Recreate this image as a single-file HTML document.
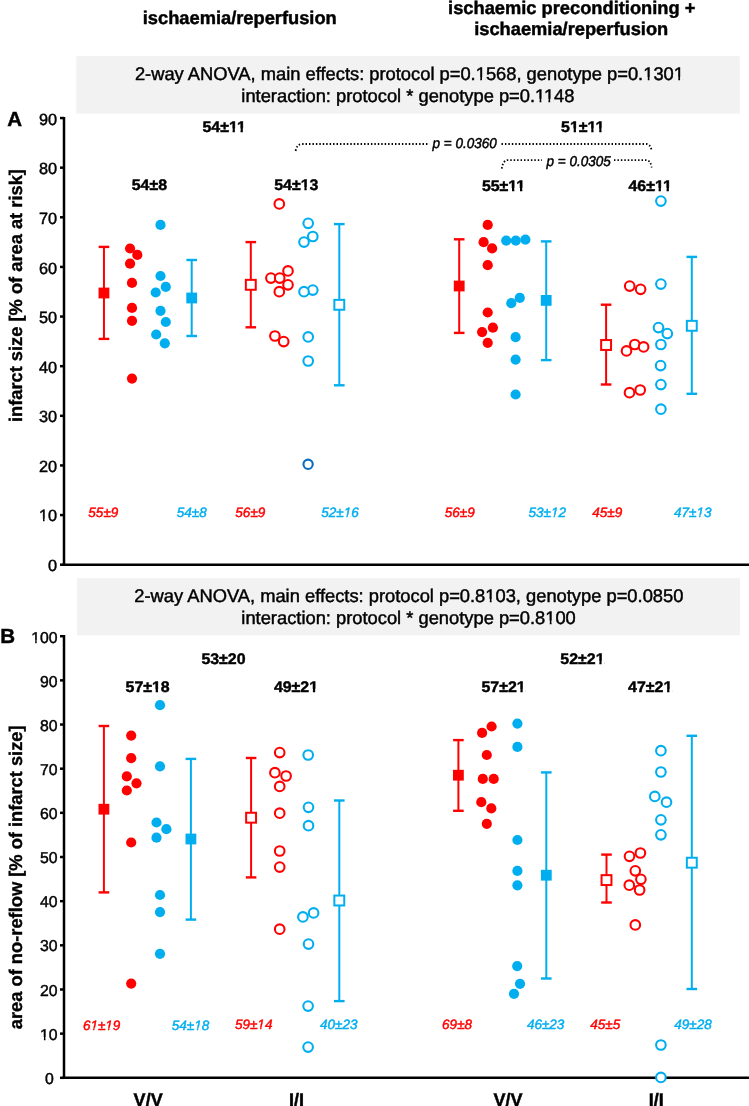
<!DOCTYPE html>
<html><head><meta charset="utf-8"><style>
html,body{margin:0;padding:0;background:#fff;width:749px;height:1106px;overflow:hidden}
svg{display:block;will-change:transform;font-family:"Liberation Sans",sans-serif}
</style></head><body>
<svg width="749" height="1106" viewBox="0 0 749 1106" font-family="Liberation Sans, sans-serif" text-rendering="geometricPrecision">
<rect x="76.3" y="56.1" width="663.5" height="57.5" fill="#f2f2f2"/>
<rect x="77" y="578.1" width="662.9" height="57.2" fill="#f2f2f2"/>
<line x1="64" y1="117" x2="64" y2="565.95" stroke="#000" stroke-width="2.5"/>
<line x1="62.75" y1="564.7" x2="749" y2="564.7" stroke="#000" stroke-width="2.5"/>
<line x1="60" y1="564.7" x2="64" y2="564.7" stroke="#000" stroke-width="2.5"/>
<line x1="60" y1="515.07" x2="64" y2="515.07" stroke="#000" stroke-width="2.5"/>
<line x1="60" y1="465.44" x2="64" y2="465.44" stroke="#000" stroke-width="2.5"/>
<line x1="60" y1="415.81" x2="64" y2="415.81" stroke="#000" stroke-width="2.5"/>
<line x1="60" y1="366.18" x2="64" y2="366.18" stroke="#000" stroke-width="2.5"/>
<line x1="60" y1="316.55" x2="64" y2="316.55" stroke="#000" stroke-width="2.5"/>
<line x1="60" y1="266.92" x2="64" y2="266.92" stroke="#000" stroke-width="2.5"/>
<line x1="60" y1="217.29" x2="64" y2="217.29" stroke="#000" stroke-width="2.5"/>
<line x1="60" y1="167.66" x2="64" y2="167.66" stroke="#000" stroke-width="2.5"/>
<line x1="60" y1="118.03" x2="64" y2="118.03" stroke="#000" stroke-width="2.5"/>
<line x1="64" y1="635.05" x2="64" y2="1079.05" stroke="#000" stroke-width="2.5"/>
<line x1="62.75" y1="1077.8" x2="749" y2="1077.8" stroke="#000" stroke-width="2.5"/>
<line x1="60" y1="1077.8" x2="64" y2="1077.8" stroke="#000" stroke-width="2.5"/>
<line x1="60" y1="1033.64" x2="64" y2="1033.64" stroke="#000" stroke-width="2.5"/>
<line x1="60" y1="989.48" x2="64" y2="989.48" stroke="#000" stroke-width="2.5"/>
<line x1="60" y1="945.32" x2="64" y2="945.32" stroke="#000" stroke-width="2.5"/>
<line x1="60" y1="901.16" x2="64" y2="901.16" stroke="#000" stroke-width="2.5"/>
<line x1="60" y1="857" x2="64" y2="857" stroke="#000" stroke-width="2.5"/>
<line x1="60" y1="812.84" x2="64" y2="812.84" stroke="#000" stroke-width="2.5"/>
<line x1="60" y1="768.68" x2="64" y2="768.68" stroke="#000" stroke-width="2.5"/>
<line x1="60" y1="724.52" x2="64" y2="724.52" stroke="#000" stroke-width="2.5"/>
<line x1="60" y1="680.36" x2="64" y2="680.36" stroke="#000" stroke-width="2.5"/>
<line x1="60" y1="636.2" x2="64" y2="636.2" stroke="#000" stroke-width="2.5"/>
<path d="M295.6,151 Q297,144 302,144 L429.5,144" stroke="#000" stroke-width="1.8" stroke-dasharray="1.45 1.99" fill="none"/>
<path d="M501.5,144 L646,144 Q650.5,144 651.7,151" stroke="#000" stroke-width="1.8" stroke-dasharray="1.45 1.99" fill="none"/>
<path d="M501.8,168.6 Q503,160.1 508,160.1 L542,160.1" stroke="#000" stroke-width="1.8" stroke-dasharray="1.45 1.99" fill="none"/>
<path d="M614,160.1 L646,160.1 Q650.5,160.1 651.7,167.5" stroke="#000" stroke-width="1.8" stroke-dasharray="1.45 1.99" fill="none"/>
<line x1="103.95" y1="246.9" x2="103.95" y2="338.9" stroke="#ff0000" stroke-width="2.0"/>
<line x1="98.65" y1="246.9" x2="109.25" y2="246.9" stroke="#ff0000" stroke-width="2.4"/>
<line x1="98.65" y1="338.9" x2="109.25" y2="338.9" stroke="#ff0000" stroke-width="2.4"/>
<rect x="98.55" y="287.6" width="10.8" height="10.8" fill="#ff0000"/>
<line x1="191.7" y1="260" x2="191.7" y2="336" stroke="#00aeef" stroke-width="2.0"/>
<line x1="186.4" y1="260" x2="197" y2="260" stroke="#00aeef" stroke-width="2.4"/>
<line x1="186.4" y1="336" x2="197" y2="336" stroke="#00aeef" stroke-width="2.4"/>
<rect x="186.3" y="292.6" width="10.8" height="10.8" fill="#00aeef"/>
<circle cx="130.05" cy="248.5" r="5.1" fill="#ff0000"/>
<circle cx="137.3" cy="254.9" r="5.1" fill="#ff0000"/>
<circle cx="130.05" cy="263.7" r="5.1" fill="#ff0000"/>
<circle cx="132" cy="282.9" r="5.1" fill="#ff0000"/>
<circle cx="132" cy="307.9" r="5.1" fill="#ff0000"/>
<circle cx="132" cy="320.8" r="5.1" fill="#ff0000"/>
<circle cx="132" cy="378.6" r="5.1" fill="#ff0000"/>
<circle cx="160.5" cy="224.9" r="5.1" fill="#00aeef"/>
<circle cx="160.5" cy="276" r="5.1" fill="#00aeef"/>
<circle cx="165.8" cy="286.9" r="5.1" fill="#00aeef"/>
<circle cx="155.7" cy="292.5" r="5.1" fill="#00aeef"/>
<circle cx="160.5" cy="310.8" r="5.1" fill="#00aeef"/>
<circle cx="165.8" cy="322" r="5.1" fill="#00aeef"/>
<circle cx="156.2" cy="334.5" r="5.1" fill="#00aeef"/>
<circle cx="164.8" cy="343.3" r="5.1" fill="#00aeef"/>
<line x1="250.8" y1="242.1" x2="250.8" y2="327.3" stroke="#ff0000" stroke-width="2.0"/>
<line x1="245.5" y1="242.1" x2="256.1" y2="242.1" stroke="#ff0000" stroke-width="2.4"/>
<line x1="245.5" y1="327.3" x2="256.1" y2="327.3" stroke="#ff0000" stroke-width="2.4"/>
<rect x="245.85" y="279.85" width="9.9" height="9.9" fill="#fff" stroke="#ff0000" stroke-width="2.0"/>
<line x1="339.3" y1="224.1" x2="339.3" y2="385.3" stroke="#00aeef" stroke-width="2.0"/>
<line x1="334" y1="224.1" x2="344.6" y2="224.1" stroke="#00aeef" stroke-width="2.4"/>
<line x1="334" y1="385.3" x2="344.6" y2="385.3" stroke="#00aeef" stroke-width="2.4"/>
<rect x="334.35" y="299.85" width="9.9" height="9.9" fill="#fff" stroke="#00aeef" stroke-width="2.0"/>
<circle cx="279.3" cy="203.9" r="4.8" fill="#fff" stroke="#ff0000" stroke-width="2.1"/>
<circle cx="288" cy="270.9" r="4.8" fill="#fff" stroke="#ff0000" stroke-width="2.1"/>
<circle cx="270.9" cy="278.1" r="4.8" fill="#fff" stroke="#ff0000" stroke-width="2.1"/>
<circle cx="279.7" cy="278.1" r="4.8" fill="#fff" stroke="#ff0000" stroke-width="2.1"/>
<circle cx="288" cy="284.8" r="4.8" fill="#fff" stroke="#ff0000" stroke-width="2.1"/>
<circle cx="279.3" cy="291.7" r="4.8" fill="#fff" stroke="#ff0000" stroke-width="2.1"/>
<circle cx="274.9" cy="336" r="4.8" fill="#fff" stroke="#ff0000" stroke-width="2.1"/>
<circle cx="283.7" cy="341.6" r="4.8" fill="#fff" stroke="#ff0000" stroke-width="2.1"/>
<circle cx="308.2" cy="223.3" r="4.8" fill="#fff" stroke="#00aeef" stroke-width="2.1"/>
<circle cx="312.8" cy="236.5" r="4.8" fill="#fff" stroke="#00aeef" stroke-width="2.1"/>
<circle cx="304" cy="242.1" r="4.8" fill="#fff" stroke="#00aeef" stroke-width="2.1"/>
<circle cx="312.8" cy="290.1" r="4.8" fill="#fff" stroke="#00aeef" stroke-width="2.1"/>
<circle cx="304" cy="291.7" r="4.8" fill="#fff" stroke="#00aeef" stroke-width="2.1"/>
<circle cx="308.2" cy="336.9" r="4.8" fill="#fff" stroke="#00aeef" stroke-width="2.1"/>
<circle cx="308.2" cy="361" r="4.8" fill="#fff" stroke="#00aeef" stroke-width="2.1"/>
<line x1="459.2" y1="239.3" x2="459.2" y2="332.9" stroke="#ff0000" stroke-width="2.0"/>
<line x1="453.9" y1="239.3" x2="464.5" y2="239.3" stroke="#ff0000" stroke-width="2.4"/>
<line x1="453.9" y1="332.9" x2="464.5" y2="332.9" stroke="#ff0000" stroke-width="2.4"/>
<rect x="453.8" y="280.6" width="10.8" height="10.8" fill="#ff0000"/>
<line x1="546.2" y1="241.4" x2="546.2" y2="360.1" stroke="#00aeef" stroke-width="2.0"/>
<line x1="540.9" y1="241.4" x2="551.5" y2="241.4" stroke="#00aeef" stroke-width="2.4"/>
<line x1="540.9" y1="360.1" x2="551.5" y2="360.1" stroke="#00aeef" stroke-width="2.4"/>
<rect x="540.8" y="295" width="10.8" height="10.8" fill="#00aeef"/>
<circle cx="487.7" cy="224.9" r="5.1" fill="#ff0000"/>
<circle cx="483.6" cy="242.2" r="5.1" fill="#ff0000"/>
<circle cx="492.1" cy="248.4" r="5.1" fill="#ff0000"/>
<circle cx="487.7" cy="265.2" r="5.1" fill="#ff0000"/>
<circle cx="487.7" cy="312.5" r="5.1" fill="#ff0000"/>
<circle cx="492.9" cy="327.7" r="5.1" fill="#ff0000"/>
<circle cx="482.1" cy="332.1" r="5.1" fill="#ff0000"/>
<circle cx="487.7" cy="342.8" r="5.1" fill="#ff0000"/>
<circle cx="506.2" cy="240.6" r="5.1" fill="#00aeef"/>
<circle cx="515.8" cy="240.6" r="5.1" fill="#00aeef"/>
<circle cx="525.4" cy="239.6" r="5.1" fill="#00aeef"/>
<circle cx="519.8" cy="297.9" r="5.1" fill="#00aeef"/>
<circle cx="511.3" cy="303.2" r="5.1" fill="#00aeef"/>
<circle cx="515.6" cy="337.2" r="5.1" fill="#00aeef"/>
<circle cx="515.6" cy="359.6" r="5.1" fill="#00aeef"/>
<circle cx="515.6" cy="394.5" r="5.1" fill="#00aeef"/>
<line x1="606.1" y1="304.7" x2="606.1" y2="384.5" stroke="#ff0000" stroke-width="2.0"/>
<line x1="600.8" y1="304.7" x2="611.4" y2="304.7" stroke="#ff0000" stroke-width="2.4"/>
<line x1="600.8" y1="384.5" x2="611.4" y2="384.5" stroke="#ff0000" stroke-width="2.4"/>
<rect x="601.15" y="340.05" width="9.9" height="9.9" fill="#fff" stroke="#ff0000" stroke-width="2.0"/>
<line x1="691.8" y1="256.9" x2="691.8" y2="393.8" stroke="#00aeef" stroke-width="2.0"/>
<line x1="686.5" y1="256.9" x2="697.1" y2="256.9" stroke="#00aeef" stroke-width="2.4"/>
<line x1="686.5" y1="393.8" x2="697.1" y2="393.8" stroke="#00aeef" stroke-width="2.4"/>
<rect x="686.85" y="320.85" width="9.9" height="9.9" fill="#fff" stroke="#00aeef" stroke-width="2.0"/>
<circle cx="629.7" cy="286.1" r="4.8" fill="#fff" stroke="#ff0000" stroke-width="2.1"/>
<circle cx="640.6" cy="289.3" r="4.8" fill="#fff" stroke="#ff0000" stroke-width="2.1"/>
<circle cx="634.8" cy="344.5" r="4.8" fill="#fff" stroke="#ff0000" stroke-width="2.1"/>
<circle cx="643.6" cy="346.9" r="4.8" fill="#fff" stroke="#ff0000" stroke-width="2.1"/>
<circle cx="626.5" cy="350.9" r="4.8" fill="#fff" stroke="#ff0000" stroke-width="2.1"/>
<circle cx="640.2" cy="390" r="4.8" fill="#fff" stroke="#ff0000" stroke-width="2.1"/>
<circle cx="629.5" cy="392.7" r="4.8" fill="#fff" stroke="#ff0000" stroke-width="2.1"/>
<circle cx="660.9" cy="201.1" r="4.8" fill="#fff" stroke="#00aeef" stroke-width="2.1"/>
<circle cx="660.9" cy="284.1" r="4.8" fill="#fff" stroke="#00aeef" stroke-width="2.1"/>
<circle cx="658.5" cy="327.6" r="4.8" fill="#fff" stroke="#00aeef" stroke-width="2.1"/>
<circle cx="667.3" cy="333.6" r="4.8" fill="#fff" stroke="#00aeef" stroke-width="2.1"/>
<circle cx="660.9" cy="344.5" r="4.8" fill="#fff" stroke="#00aeef" stroke-width="2.1"/>
<circle cx="660.6" cy="365.6" r="4.8" fill="#fff" stroke="#00aeef" stroke-width="2.1"/>
<circle cx="660.9" cy="384.6" r="4.8" fill="#fff" stroke="#00aeef" stroke-width="2.1"/>
<circle cx="660.9" cy="409.2" r="4.8" fill="#fff" stroke="#00aeef" stroke-width="2.1"/>
<line x1="103.9" y1="726" x2="103.9" y2="892.4" stroke="#ff0000" stroke-width="2.0"/>
<line x1="98.6" y1="726" x2="109.2" y2="726" stroke="#ff0000" stroke-width="2.4"/>
<line x1="98.6" y1="892.4" x2="109.2" y2="892.4" stroke="#ff0000" stroke-width="2.4"/>
<rect x="98.5" y="803.8" width="10.8" height="10.8" fill="#ff0000"/>
<line x1="190.9" y1="758.9" x2="190.9" y2="919.6" stroke="#00aeef" stroke-width="2.0"/>
<line x1="185.6" y1="758.9" x2="196.2" y2="758.9" stroke="#00aeef" stroke-width="2.4"/>
<line x1="185.6" y1="919.6" x2="196.2" y2="919.6" stroke="#00aeef" stroke-width="2.4"/>
<rect x="185.5" y="833.6" width="10.8" height="10.8" fill="#00aeef"/>
<circle cx="131.2" cy="735.6" r="5.1" fill="#ff0000"/>
<circle cx="131.2" cy="758.2" r="5.1" fill="#ff0000"/>
<circle cx="126.8" cy="776.4" r="5.1" fill="#ff0000"/>
<circle cx="136.5" cy="783.3" r="5.1" fill="#ff0000"/>
<circle cx="126.8" cy="790.5" r="5.1" fill="#ff0000"/>
<circle cx="131.2" cy="842.5" r="5.1" fill="#ff0000"/>
<circle cx="131.2" cy="983.6" r="5.1" fill="#ff0000"/>
<circle cx="160" cy="705.2" r="5.1" fill="#00aeef"/>
<circle cx="160" cy="766.4" r="5.1" fill="#00aeef"/>
<circle cx="156.5" cy="822.5" r="5.1" fill="#00aeef"/>
<circle cx="166.4" cy="829.2" r="5.1" fill="#00aeef"/>
<circle cx="156.5" cy="837.7" r="5.1" fill="#00aeef"/>
<circle cx="160" cy="895" r="5.1" fill="#00aeef"/>
<circle cx="160" cy="912.1" r="5.1" fill="#00aeef"/>
<circle cx="160" cy="953.8" r="5.1" fill="#00aeef"/>
<line x1="251.1" y1="758" x2="251.1" y2="877.4" stroke="#ff0000" stroke-width="2.0"/>
<line x1="245.8" y1="758" x2="256.4" y2="758" stroke="#ff0000" stroke-width="2.4"/>
<line x1="245.8" y1="877.4" x2="256.4" y2="877.4" stroke="#ff0000" stroke-width="2.4"/>
<rect x="246.15" y="812.75" width="9.9" height="9.9" fill="#fff" stroke="#ff0000" stroke-width="2.0"/>
<line x1="339.3" y1="800.5" x2="339.3" y2="1001.1" stroke="#00aeef" stroke-width="2.0"/>
<line x1="334" y1="800.5" x2="344.6" y2="800.5" stroke="#00aeef" stroke-width="2.4"/>
<line x1="334" y1="1001.1" x2="344.6" y2="1001.1" stroke="#00aeef" stroke-width="2.4"/>
<rect x="334.35" y="895.55" width="9.9" height="9.9" fill="#fff" stroke="#00aeef" stroke-width="2.0"/>
<circle cx="279.7" cy="752.6" r="4.8" fill="#fff" stroke="#ff0000" stroke-width="2.1"/>
<circle cx="274.9" cy="772.7" r="4.8" fill="#fff" stroke="#ff0000" stroke-width="2.1"/>
<circle cx="286.1" cy="776" r="4.8" fill="#fff" stroke="#ff0000" stroke-width="2.1"/>
<circle cx="279.7" cy="786.4" r="4.8" fill="#fff" stroke="#ff0000" stroke-width="2.1"/>
<circle cx="279.7" cy="813.2" r="4.8" fill="#fff" stroke="#ff0000" stroke-width="2.1"/>
<circle cx="279.7" cy="851" r="4.8" fill="#fff" stroke="#ff0000" stroke-width="2.1"/>
<circle cx="279.7" cy="867.1" r="4.8" fill="#fff" stroke="#ff0000" stroke-width="2.1"/>
<circle cx="279.7" cy="929.2" r="4.8" fill="#fff" stroke="#ff0000" stroke-width="2.1"/>
<circle cx="308.2" cy="755" r="4.8" fill="#fff" stroke="#00aeef" stroke-width="2.1"/>
<circle cx="308.5" cy="807.3" r="4.8" fill="#fff" stroke="#00aeef" stroke-width="2.1"/>
<circle cx="308.5" cy="825.7" r="4.8" fill="#fff" stroke="#00aeef" stroke-width="2.1"/>
<circle cx="313.6" cy="912.9" r="4.8" fill="#fff" stroke="#00aeef" stroke-width="2.1"/>
<circle cx="302.9" cy="916.9" r="4.8" fill="#fff" stroke="#00aeef" stroke-width="2.1"/>
<circle cx="308.5" cy="944.1" r="4.8" fill="#fff" stroke="#00aeef" stroke-width="2.1"/>
<circle cx="308.1" cy="1006.1" r="4.8" fill="#fff" stroke="#00aeef" stroke-width="2.1"/>
<circle cx="308.1" cy="1047.1" r="4.8" fill="#fff" stroke="#00aeef" stroke-width="2.1"/>
<line x1="458.4" y1="740.1" x2="458.4" y2="810.8" stroke="#ff0000" stroke-width="2.0"/>
<line x1="453.1" y1="740.1" x2="463.7" y2="740.1" stroke="#ff0000" stroke-width="2.4"/>
<line x1="453.1" y1="810.8" x2="463.7" y2="810.8" stroke="#ff0000" stroke-width="2.4"/>
<rect x="453" y="769.8" width="10.8" height="10.8" fill="#ff0000"/>
<line x1="546.3" y1="772.4" x2="546.3" y2="978.5" stroke="#00aeef" stroke-width="2.0"/>
<line x1="541" y1="772.4" x2="551.6" y2="772.4" stroke="#00aeef" stroke-width="2.4"/>
<line x1="541" y1="978.5" x2="551.6" y2="978.5" stroke="#00aeef" stroke-width="2.4"/>
<rect x="540.9" y="869.8" width="10.8" height="10.8" fill="#00aeef"/>
<circle cx="491.6" cy="726.5" r="5.1" fill="#ff0000"/>
<circle cx="482.1" cy="732.9" r="5.1" fill="#ff0000"/>
<circle cx="486.8" cy="755" r="5.1" fill="#ff0000"/>
<circle cx="482.8" cy="778.9" r="5.1" fill="#ff0000"/>
<circle cx="493.7" cy="778.9" r="5.1" fill="#ff0000"/>
<circle cx="481.3" cy="802.2" r="5.1" fill="#ff0000"/>
<circle cx="491.3" cy="808.4" r="5.1" fill="#ff0000"/>
<circle cx="486.8" cy="823.8" r="5.1" fill="#ff0000"/>
<circle cx="517.4" cy="723.6" r="5.1" fill="#00aeef"/>
<circle cx="517.4" cy="746.9" r="5.1" fill="#00aeef"/>
<circle cx="517.4" cy="840" r="5.1" fill="#00aeef"/>
<circle cx="517.4" cy="870.9" r="5.1" fill="#00aeef"/>
<circle cx="517.4" cy="885.3" r="5.1" fill="#00aeef"/>
<circle cx="517.2" cy="966.1" r="5.1" fill="#00aeef"/>
<circle cx="520" cy="983.8" r="5.1" fill="#00aeef"/>
<circle cx="514" cy="993.8" r="5.1" fill="#00aeef"/>
<line x1="606.5" y1="854.6" x2="606.5" y2="902.5" stroke="#ff0000" stroke-width="2.0"/>
<line x1="601.2" y1="854.6" x2="611.8" y2="854.6" stroke="#ff0000" stroke-width="2.4"/>
<line x1="601.2" y1="902.5" x2="611.8" y2="902.5" stroke="#ff0000" stroke-width="2.4"/>
<rect x="601.55" y="875.15" width="9.9" height="9.9" fill="#fff" stroke="#ff0000" stroke-width="2.0"/>
<line x1="691.8" y1="735.8" x2="691.8" y2="989" stroke="#00aeef" stroke-width="2.0"/>
<line x1="686.5" y1="735.8" x2="697.1" y2="735.8" stroke="#00aeef" stroke-width="2.4"/>
<line x1="686.5" y1="989" x2="697.1" y2="989" stroke="#00aeef" stroke-width="2.4"/>
<rect x="686.85" y="857.75" width="9.9" height="9.9" fill="#fff" stroke="#00aeef" stroke-width="2.0"/>
<circle cx="640.4" cy="853" r="4.8" fill="#fff" stroke="#ff0000" stroke-width="2.1"/>
<circle cx="629.5" cy="856.3" r="4.8" fill="#fff" stroke="#ff0000" stroke-width="2.1"/>
<circle cx="635.3" cy="870.8" r="4.8" fill="#fff" stroke="#ff0000" stroke-width="2.1"/>
<circle cx="640.9" cy="879.3" r="4.8" fill="#fff" stroke="#ff0000" stroke-width="2.1"/>
<circle cx="629.3" cy="885.2" r="4.8" fill="#fff" stroke="#ff0000" stroke-width="2.1"/>
<circle cx="639.6" cy="890" r="4.8" fill="#fff" stroke="#ff0000" stroke-width="2.1"/>
<circle cx="635.3" cy="924.9" r="4.8" fill="#fff" stroke="#ff0000" stroke-width="2.1"/>
<circle cx="660.9" cy="750.7" r="4.8" fill="#fff" stroke="#00aeef" stroke-width="2.1"/>
<circle cx="660.9" cy="772" r="4.8" fill="#fff" stroke="#00aeef" stroke-width="2.1"/>
<circle cx="654.8" cy="796.4" r="4.8" fill="#fff" stroke="#00aeef" stroke-width="2.1"/>
<circle cx="666.5" cy="802.2" r="4.8" fill="#fff" stroke="#00aeef" stroke-width="2.1"/>
<circle cx="660.9" cy="819.8" r="4.8" fill="#fff" stroke="#00aeef" stroke-width="2.1"/>
<circle cx="660.9" cy="834.8" r="4.8" fill="#fff" stroke="#00aeef" stroke-width="2.1"/>
<circle cx="660.9" cy="1045" r="4.8" fill="#fff" stroke="#00aeef" stroke-width="2.1"/>
<circle cx="660.9" cy="1077.4" r="4.8" fill="#fff" stroke="#00aeef" stroke-width="2.1"/>
<circle cx="308.1" cy="464.3" r="4.65" fill="#fff" stroke="#0a6cc0" stroke-width="2.1"/>
<text x="142.73" y="24.4" font-weight="bold" font-style="normal" font-size="18.3" fill="#000" stroke="#000" stroke-width="0.45">ischaemia/reperfusion</text>
<text x="448.08" y="13.5" font-weight="bold" font-style="normal" font-size="18.3" fill="#000" stroke="#000" stroke-width="0.45">ischaemic preconditioning +</text>
<text x="474.17" y="35.2" font-weight="bold" font-style="normal" font-size="18.3" fill="#000" stroke="#000" stroke-width="0.45">ischaemia/reperfusion</text>
<text x="134.9" y="80.25" font-weight="normal" font-style="normal" font-size="18.32" fill="#000" stroke="#000" stroke-width="0.45">2-way ANOVA, main effects: protocol p=0.1568, genotype p=0.1301</text>
<text x="241.35" y="101.75" font-weight="normal" font-style="normal" font-size="18.32" fill="#000" stroke="#000" stroke-width="0.45">interaction: protocol * genotype p=0.1148</text>
<text x="134.32" y="602.05" font-weight="normal" font-style="normal" font-size="18.32" fill="#000" stroke="#000" stroke-width="0.45">2-way ANOVA, main effects: protocol p=0.8103, genotype p=0.0850</text>
<text x="241.35" y="623.55" font-weight="normal" font-style="normal" font-size="18.32" fill="#000" stroke="#000" stroke-width="0.45">interaction: protocol * genotype p=0.8100</text>
<text x="7.17" y="125.85" font-weight="bold" font-style="normal" font-size="20.54" fill="#000" stroke="#000" stroke-width="0.45">A</text>
<text x="0.18" y="643.25" font-weight="bold" font-style="normal" font-size="20.54" fill="#000" stroke="#000" stroke-width="0.45">B</text>
<g transform="matrix(1 0 0 0.96 0 4.83)"><text x="202.43" y="132.05" font-weight="bold" font-style="normal" font-size="15.95" fill="#000" stroke="#000" stroke-width="0.45">54±11</text></g>
<g transform="matrix(1 0 0 0.96 0 7.17)"><text x="131.68" y="190.55" font-weight="bold" font-style="normal" font-size="15.95" fill="#000" stroke="#000" stroke-width="0.45">54±8</text></g>
<g transform="matrix(1 0 0 0.96 0 7.17)"><text x="274.25" y="190.55" font-weight="bold" font-style="normal" font-size="15.95" fill="#000" stroke="#000" stroke-width="0.45">54±13</text></g>
<g transform="matrix(1 0 0 0.96 0 4.83)"><text x="561.12" y="132.05" font-weight="bold" font-style="normal" font-size="15.95" fill="#000" stroke="#000" stroke-width="0.45">51±11</text></g>
<g transform="matrix(1 0 0 0.96 0 7.21)"><text x="481.88" y="191.55" font-weight="bold" font-style="normal" font-size="15.95" fill="#000" stroke="#000" stroke-width="0.45">55±11</text></g>
<g transform="matrix(1 0 0 0.96 0 7.21)"><text x="628.45" y="191.55" font-weight="bold" font-style="normal" font-size="15.95" fill="#000" stroke="#000" stroke-width="0.45">46±11</text></g>
<g transform="matrix(1 0 0 0.96 0 26.14)"><text x="201.4" y="664.65" font-weight="bold" font-style="normal" font-size="15.95" fill="#000" stroke="#000" stroke-width="0.45">53±20</text></g>
<g transform="matrix(1 0 0 0.96 0 27.27)"><text x="125.53" y="692.95" font-weight="bold" font-style="normal" font-size="15.95" fill="#000" stroke="#000" stroke-width="0.45">57±18</text></g>
<g transform="matrix(1 0 0 0.96 0 27.25)"><text x="273.9" y="692.45" font-weight="bold" font-style="normal" font-size="15.95" fill="#000" stroke="#000" stroke-width="0.45">49±21</text></g>
<g transform="matrix(1 0 0 0.96 0 26.14)"><text x="560.33" y="664.65" font-weight="bold" font-style="normal" font-size="15.95" fill="#000" stroke="#000" stroke-width="0.45">52±21</text></g>
<g transform="matrix(1 0 0 0.96 0 27.27)"><text x="481.42" y="692.95" font-weight="bold" font-style="normal" font-size="15.95" fill="#000" stroke="#000" stroke-width="0.45">57±21</text></g>
<g transform="matrix(1 0 0 0.96 0 27.27)"><text x="628.1" y="692.95" font-weight="bold" font-style="normal" font-size="15.95" fill="#000" stroke="#000" stroke-width="0.45">47±21</text></g>
<text x="88.35" y="516.65" font-weight="normal" font-style="italic" font-size="13.53" fill="#ff0000" stroke="#ff0000" stroke-width="0.45">55±9</text>
<text x="176.75" y="516.65" font-weight="normal" font-style="italic" font-size="13.53" fill="#00aeef" stroke="#00aeef" stroke-width="0.45">54±8</text>
<text x="235.35" y="516.65" font-weight="normal" font-style="italic" font-size="13.53" fill="#ff0000" stroke="#ff0000" stroke-width="0.45">56±9</text>
<text x="321.27" y="516.65" font-weight="normal" font-style="italic" font-size="13.53" fill="#00aeef" stroke="#00aeef" stroke-width="0.45">52±16</text>
<text x="444.75" y="516.65" font-weight="normal" font-style="italic" font-size="13.53" fill="#ff0000" stroke="#ff0000" stroke-width="0.45">56±9</text>
<text x="528.5" y="516.65" font-weight="normal" font-style="italic" font-size="13.53" fill="#00aeef" stroke="#00aeef" stroke-width="0.45">53±12</text>
<text x="592.33" y="516.65" font-weight="normal" font-style="italic" font-size="13.53" fill="#ff0000" stroke="#ff0000" stroke-width="0.45">45±9</text>
<text x="674.03" y="516.65" font-weight="normal" font-style="italic" font-size="13.53" fill="#00aeef" stroke="#00aeef" stroke-width="0.45">47±13</text>
<text x="82.9" y="1029.85" font-weight="normal" font-style="italic" font-size="13.53" fill="#ff0000" stroke="#ff0000" stroke-width="0.45">61±19</text>
<text x="171.7" y="1029.85" font-weight="normal" font-style="italic" font-size="13.53" fill="#00aeef" stroke="#00aeef" stroke-width="0.45">54±18</text>
<text x="234.93" y="1029.25" font-weight="normal" font-style="italic" font-size="13.53" fill="#ff0000" stroke="#ff0000" stroke-width="0.45">59±14</text>
<text x="320.02" y="1029.25" font-weight="normal" font-style="italic" font-size="13.53" fill="#00aeef" stroke="#00aeef" stroke-width="0.45">40±23</text>
<text x="442.1" y="1029.25" font-weight="normal" font-style="italic" font-size="13.53" fill="#ff0000" stroke="#ff0000" stroke-width="0.45">69±8</text>
<text x="526.88" y="1029.25" font-weight="normal" font-style="italic" font-size="13.53" fill="#00aeef" stroke="#00aeef" stroke-width="0.45">46±23</text>
<text x="590.25" y="1029" font-weight="normal" font-style="italic" font-size="13.53" fill="#ff0000" stroke="#ff0000" stroke-width="0.45">45±5</text>
<text x="674.27" y="1029.25" font-weight="normal" font-style="italic" font-size="13.53" fill="#00aeef" stroke="#00aeef" stroke-width="0.45">49±28</text>
<g transform="matrix(1 0 0 1.05 0 -6.88)"><text x="432.45" y="147.3" font-weight="normal" font-style="italic" font-size="13.54" fill="#000" stroke="#000" stroke-width="0.45">p = 0.0360</text></g>
<g transform="matrix(1 0 0 1.05 0 -7.81)"><text x="546.55" y="165.9" font-weight="normal" font-style="italic" font-size="13.54" fill="#000" stroke="#000" stroke-width="0.45">p = 0.0305</text></g>
<text x="133.62" y="1105.85" font-weight="bold" font-style="normal" font-size="18.06" fill="#000" stroke="#000" stroke-width="0.45">V/V</text>
<text x="289" y="1105.85" font-weight="bold" font-style="normal" font-size="18.06" fill="#000" stroke="#000" stroke-width="0.45">I/I</text>
<text x="493.57" y="1105.85" font-weight="bold" font-style="normal" font-size="18.06" fill="#000" stroke="#000" stroke-width="0.45">V/V</text>
<text x="648.75" y="1105.85" font-weight="bold" font-style="normal" font-size="18.06" fill="#000" stroke="#000" stroke-width="0.45">I/I</text>
<text x="47.95" y="570.93" font-weight="normal" font-style="normal" font-size="16.3" fill="#000" stroke="#000" stroke-width="0.45">0</text>
<text x="38.95" y="521.36" font-weight="normal" font-style="normal" font-size="16.3" fill="#000" stroke="#000" stroke-width="0.45">10</text>
<text x="38.95" y="471.8" font-weight="normal" font-style="normal" font-size="16.3" fill="#000" stroke="#000" stroke-width="0.45">20</text>
<text x="38.95" y="422.24" font-weight="normal" font-style="normal" font-size="16.3" fill="#000" stroke="#000" stroke-width="0.45">30</text>
<text x="38.95" y="372.67" font-weight="normal" font-style="normal" font-size="16.3" fill="#000" stroke="#000" stroke-width="0.45">40</text>
<text x="38.95" y="323.11" font-weight="normal" font-style="normal" font-size="16.3" fill="#000" stroke="#000" stroke-width="0.45">50</text>
<text x="38.95" y="273.55" font-weight="normal" font-style="normal" font-size="16.3" fill="#000" stroke="#000" stroke-width="0.45">60</text>
<text x="38.95" y="223.98" font-weight="normal" font-style="normal" font-size="16.3" fill="#000" stroke="#000" stroke-width="0.45">70</text>
<text x="38.95" y="174.42" font-weight="normal" font-style="normal" font-size="16.3" fill="#000" stroke="#000" stroke-width="0.45">80</text>
<text x="38.95" y="124.86" font-weight="normal" font-style="normal" font-size="16.3" fill="#000" stroke="#000" stroke-width="0.45">90</text>
<text x="45.1" y="1083.8" font-weight="normal" font-style="normal" font-size="15.8" fill="#000" stroke="#000" stroke-width="0.45">0</text>
<text x="40.05" y="1039.6" font-weight="normal" font-style="normal" font-size="15.8" fill="#000" stroke="#000" stroke-width="0.45">10</text>
<text x="40.05" y="995.5" font-weight="normal" font-style="normal" font-size="15.8" fill="#000" stroke="#000" stroke-width="0.45">20</text>
<text x="40.05" y="951.4" font-weight="normal" font-style="normal" font-size="15.8" fill="#000" stroke="#000" stroke-width="0.45">30</text>
<text x="40.05" y="907.3" font-weight="normal" font-style="normal" font-size="15.8" fill="#000" stroke="#000" stroke-width="0.45">40</text>
<text x="40.05" y="863.2" font-weight="normal" font-style="normal" font-size="15.8" fill="#000" stroke="#000" stroke-width="0.45">50</text>
<text x="40.05" y="819.1" font-weight="normal" font-style="normal" font-size="15.8" fill="#000" stroke="#000" stroke-width="0.45">60</text>
<text x="40.05" y="775" font-weight="normal" font-style="normal" font-size="15.8" fill="#000" stroke="#000" stroke-width="0.45">70</text>
<text x="40.05" y="730.9" font-weight="normal" font-style="normal" font-size="15.8" fill="#000" stroke="#000" stroke-width="0.45">80</text>
<text x="40.05" y="686.8" font-weight="normal" font-style="normal" font-size="15.8" fill="#000" stroke="#000" stroke-width="0.45">90</text>
<text x="31.3" y="642.7" font-weight="normal" font-style="normal" font-size="15.8" fill="#000" stroke="#000" stroke-width="0.45">100</text>
<text transform="translate(22,295.6) rotate(-90)" text-anchor="middle" font-weight="bold" font-size="18.3" stroke="#000" stroke-width="0.35">infarct size [% of area at risk]</text>
<text transform="translate(22,877.3) rotate(-90)" text-anchor="middle" font-weight="bold" font-size="18.3" stroke="#000" stroke-width="0.35">area of no-reflow [% of infarct size]</text>
<polygon points="476.32,82.22 480.23,82.22 480.23,77.30 476.32,77.30" fill="#f2f2f2"/>
<polygon points="481.99,82.22 485.76,82.22 485.76,77.30 481.99,77.30" fill="#f2f2f2"/>
<polygon points="643.84,82.22 647.75,82.22 647.75,77.30 643.84,77.30" fill="#f2f2f2"/>
<polygon points="649.51,82.22 653.28,82.22 653.28,77.30 649.51,77.30" fill="#f2f2f2"/>
<polygon points="674.39,82.22 678.29,82.22 678.29,77.30 674.39,77.30" fill="#f2f2f2"/>
<polygon points="680.06,82.22 683.82,82.22 683.82,77.30 680.06,77.30" fill="#f2f2f2"/>
<polygon points="535.68,103.72 539.59,103.72 539.59,98.80 535.68,98.80" fill="#f2f2f2"/>
<polygon points="541.35,103.72 545.12,103.72 545.12,98.80 541.35,98.80" fill="#f2f2f2"/>
<polygon points="544.51,103.72 548.42,103.72 548.42,98.80 544.51,98.80" fill="#f2f2f2"/>
<polygon points="550.18,103.72 553.94,103.72 553.94,98.80 550.18,98.80" fill="#f2f2f2"/>
<polygon points="485.93,604.02 489.84,604.02 489.84,599.10 485.93,599.10" fill="#f2f2f2"/>
<polygon points="491.60,604.02 495.37,604.02 495.37,599.10 491.60,599.10" fill="#f2f2f2"/>
<polygon points="545.87,625.52 549.78,625.52 549.78,620.60 545.87,620.60" fill="#f2f2f2"/>
<polygon points="551.54,625.52 555.30,625.52 555.30,620.60 551.54,620.60" fill="#f2f2f2"/>
<g transform="matrix(1 0 0 0.96 0 4.83)"><polygon points="229.21,133.76 232.56,133.76 232.56,128.78 229.21,128.78" fill="#fff"/></g>
<g transform="matrix(1 0 0 0.96 0 4.83)"><polygon points="234.87,133.76 237.97,133.76 237.97,128.78 234.87,128.78" fill="#fff"/></g>
<g transform="matrix(1 0 0 0.96 0 4.83)"><polygon points="237.19,133.76 240.54,133.76 240.54,128.78 237.19,128.78" fill="#fff"/></g>
<g transform="matrix(1 0 0 0.96 0 4.83)"><polygon points="242.86,133.76 245.96,133.76 245.96,128.78 242.86,128.78" fill="#fff"/></g>
<g transform="matrix(1 0 0 0.96 0 7.17)"><polygon points="301.03,192.26 304.38,192.26 304.38,187.28 301.03,187.28" fill="#fff"/></g>
<g transform="matrix(1 0 0 0.96 0 7.17)"><polygon points="306.69,192.26 309.79,192.26 309.79,187.28 306.69,187.28" fill="#fff"/></g>
<g transform="matrix(1 0 0 0.96 0 4.83)"><polygon points="570.29,133.76 573.64,133.76 573.64,128.78 570.29,128.78" fill="#fff"/></g>
<g transform="matrix(1 0 0 0.96 0 4.83)"><polygon points="575.95,133.76 579.05,133.76 579.05,128.78 575.95,128.78" fill="#fff"/></g>
<g transform="matrix(1 0 0 0.96 0 4.83)"><polygon points="587.90,133.76 591.25,133.76 591.25,128.78 587.90,128.78" fill="#fff"/></g>
<g transform="matrix(1 0 0 0.96 0 4.83)"><polygon points="593.56,133.76 596.66,133.76 596.66,128.78 593.56,128.78" fill="#fff"/></g>
<g transform="matrix(1 0 0 0.96 0 4.83)"><polygon points="595.88,133.76 599.23,133.76 599.23,128.78 595.88,128.78" fill="#fff"/></g>
<g transform="matrix(1 0 0 0.96 0 4.83)"><polygon points="601.55,133.76 604.65,133.76 604.65,128.78 601.55,128.78" fill="#fff"/></g>
<g transform="matrix(1 0 0 0.96 0 7.21)"><polygon points="508.66,193.26 512.01,193.26 512.01,188.28 508.66,188.28" fill="#fff"/></g>
<g transform="matrix(1 0 0 0.96 0 7.21)"><polygon points="514.32,193.26 517.42,193.26 517.42,188.28 514.32,188.28" fill="#fff"/></g>
<g transform="matrix(1 0 0 0.96 0 7.21)"><polygon points="516.64,193.26 519.99,193.26 519.99,188.28 516.64,188.28" fill="#fff"/></g>
<g transform="matrix(1 0 0 0.96 0 7.21)"><polygon points="522.31,193.26 525.41,193.26 525.41,188.28 522.31,188.28" fill="#fff"/></g>
<g transform="matrix(1 0 0 0.96 0 7.21)"><polygon points="655.23,193.26 658.58,193.26 658.58,188.28 655.23,188.28" fill="#fff"/></g>
<g transform="matrix(1 0 0 0.96 0 7.21)"><polygon points="660.89,193.26 663.99,193.26 663.99,188.28 660.89,188.28" fill="#fff"/></g>
<g transform="matrix(1 0 0 0.96 0 7.21)"><polygon points="663.21,193.26 666.56,193.26 666.56,188.28 663.21,188.28" fill="#fff"/></g>
<g transform="matrix(1 0 0 0.96 0 7.21)"><polygon points="668.88,193.26 671.98,193.26 671.98,188.28 668.88,188.28" fill="#fff"/></g>
<g transform="matrix(1 0 0 0.96 0 27.27)"><polygon points="152.31,694.66 155.66,694.66 155.66,689.68 152.31,689.68" fill="#fff"/></g>
<g transform="matrix(1 0 0 0.96 0 27.27)"><polygon points="157.97,694.66 161.07,694.66 161.07,689.68 157.97,689.68" fill="#fff"/></g>
<g transform="matrix(1 0 0 0.96 0 27.25)"><polygon points="309.54,694.16 312.89,694.16 312.89,689.18 309.54,689.18" fill="#fff"/></g>
<g transform="matrix(1 0 0 0.96 0 27.25)"><polygon points="315.20,694.16 318.30,694.16 318.30,689.18 315.20,689.18" fill="#fff"/></g>
<g transform="matrix(1 0 0 0.96 0 26.14)"><polygon points="595.97,666.36 599.32,666.36 599.32,661.38 595.97,661.38" fill="#fff"/></g>
<g transform="matrix(1 0 0 0.96 0 26.14)"><polygon points="601.63,666.36 604.73,666.36 604.73,661.38 601.63,661.38" fill="#fff"/></g>
<g transform="matrix(1 0 0 0.96 0 27.27)"><polygon points="517.06,694.66 520.41,694.66 520.41,689.68 517.06,689.68" fill="#fff"/></g>
<g transform="matrix(1 0 0 0.96 0 27.27)"><polygon points="522.72,694.66 525.82,694.66 525.82,689.68 522.72,689.68" fill="#fff"/></g>
<g transform="matrix(1 0 0 0.96 0 27.27)"><polygon points="663.74,694.66 667.09,694.66 667.09,689.68 663.74,689.68" fill="#fff"/></g>
<g transform="matrix(1 0 0 0.96 0 27.27)"><polygon points="669.40,694.66 672.50,694.66 672.50,689.68 669.40,689.68" fill="#fff"/></g>
<polygon points="343.64,518.10 346.05,518.10 346.71,514.67 344.26,514.67" fill="#fff"/>
<polygon points="347.45,518.10 350.02,518.10 350.68,514.67 348.11,514.67" fill="#fff"/>
<polygon points="550.87,518.10 553.28,518.10 553.94,514.67 551.49,514.67" fill="#fff"/>
<polygon points="554.68,518.10 557.25,518.10 557.91,514.67 555.34,514.67" fill="#fff"/>
<polygon points="696.40,518.10 698.81,518.10 699.47,514.67 697.02,514.67" fill="#fff"/>
<polygon points="700.21,518.10 702.78,518.10 703.44,514.67 700.87,514.67" fill="#fff"/>
<polygon points="90.35,1031.30 92.75,1031.30 93.42,1027.87 90.97,1027.87" fill="#fff"/>
<polygon points="94.15,1031.30 96.73,1031.30 97.39,1027.87 94.82,1027.87" fill="#fff"/>
<polygon points="105.27,1031.30 107.68,1031.30 108.34,1027.87 105.89,1027.87" fill="#fff"/>
<polygon points="109.08,1031.30 111.65,1031.30 112.31,1027.87 109.74,1027.87" fill="#fff"/>
<polygon points="194.07,1031.30 196.48,1031.30 197.14,1027.87 194.69,1027.87" fill="#fff"/>
<polygon points="197.88,1031.30 200.45,1031.30 201.11,1027.87 198.54,1027.87" fill="#fff"/>
<polygon points="257.30,1030.70 259.71,1030.70 260.37,1027.27 257.92,1027.27" fill="#fff"/>
<polygon points="261.11,1030.70 263.68,1030.70 264.34,1027.27 261.77,1027.27" fill="#fff"/>
<polygon points="39.51,523.11 42.99,523.11 42.99,518.73 39.51,518.73" fill="#fff"/>
<polygon points="44.55,523.11 47.90,523.11 47.90,518.73 44.55,518.73" fill="#fff"/>
<polygon points="40.59,1041.30 43.96,1041.30 43.96,1037.05 40.59,1037.05" fill="#fff"/>
<polygon points="45.48,1041.30 48.73,1041.30 48.73,1037.05 45.48,1037.05" fill="#fff"/>
<polygon points="31.84,644.40 35.21,644.40 35.21,640.15 31.84,640.15" fill="#fff"/>
<polygon points="36.73,644.40 39.98,644.40 39.98,640.15 36.73,640.15" fill="#fff"/>
</svg>
</body></html>
